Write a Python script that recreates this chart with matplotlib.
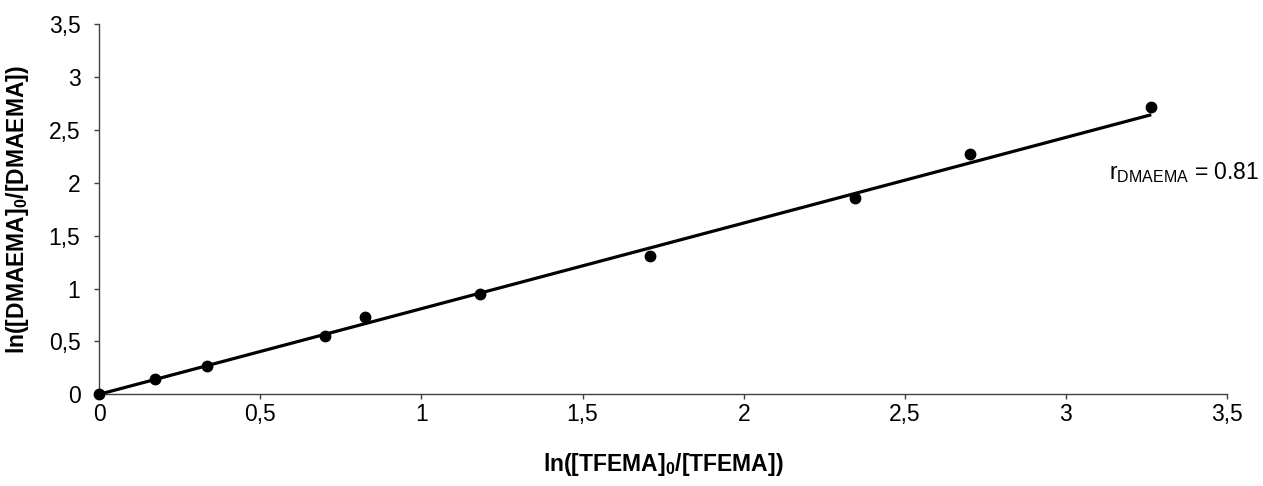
import numpy as np
import matplotlib
matplotlib.use("Agg")
import matplotlib.pyplot as plt

# Conversion data: ln([TFEMA]0/[TFEMA]) vs ln([DMAEMA]0/[DMAEMA])
ln_tfema = [0.0, 0.173, 0.334, 0.700, 0.824, 1.183, 1.708, 2.347, 2.702, 3.265]
ln_dmaema = [0.0, 0.142, 0.265, 0.554, 0.731, 0.952, 1.308, 1.860, 2.271, 2.718]
r_dmaema = 0.81

tick_values = [0, 0.5, 1, 1.5, 2, 2.5, 3, 3.5]
tick_labels = ["0", "0,5", "1", "1,5", "2", "2,5", "3", "3,5"]

family = "Liberation Sans"
plt.rcParams["font.family"] = [family, "DejaVu Sans"]
plt.rcParams["mathtext.fontset"] = "custom"
plt.rcParams["mathtext.rm"] = family
plt.rcParams["mathtext.bf"] = family + ":bold"

fig = plt.figure(figsize=(12.63, 4.86), dpi=100)
ax = fig.add_axes([0.0786, 0.1887, 0.8929, 0.7613])

x = np.array(ln_tfema)
y = np.array(ln_dmaema)

# line through the origin with slope r
xf = np.array([x.min(), x.max()])
ax.plot(xf, r_dmaema * xf, color="black", lw=2.3, zorder=2, solid_capstyle="butt")
ax.plot(x, y, "o", color="black", ms=7.5, zorder=3, clip_on=False)

ax.set_xlim(0, 3.5)
ax.set_ylim(0, 3.5)
ax.set_xticks(tick_values)
ax.set_xticklabels(tick_labels)
ax.set_yticks(tick_values)
ax.set_yticklabels(tick_labels)

for s in ["top", "right"]:
    ax.spines[s].set_visible(False)
for s in ["left", "bottom"]:
    ax.spines[s].set_color("#404040")
    ax.spines[s].set_linewidth(1.0)
ax.tick_params(direction="out", length=3.6, width=1, color="#404040",
               labelsize=16.5, labelcolor="black")
ax.tick_params(axis="x", pad=3)
ax.tick_params(axis="y", pad=10)

ax.set_xlabel(r"ln([TFEMA]$_{\mathbf{0}}$/[TFEMA])", fontsize=16.5, fontweight="bold", labelpad=18)
ax.set_ylabel(r"ln([DMAEMA]$_{\mathbf{0}}$/[DMAEMA])", fontsize=16.5, fontweight="bold", labelpad=13)

ax.text(3.134, 2.04, r"r$_{\mathrm{DMAEMA}}$ = %.2f" % r_dmaema, fontsize=16.5,
        ha="left", va="baseline", clip_on=False)

fig.savefig("out.png", dpi=100)
